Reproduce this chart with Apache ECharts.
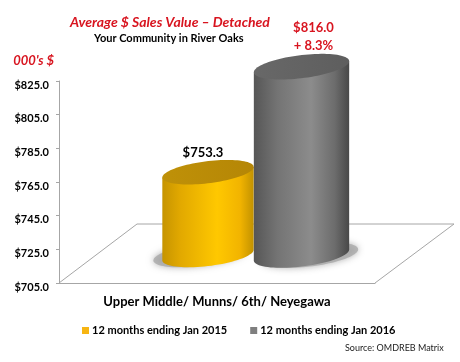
<!DOCTYPE html>
<html>
<head>
<meta charset="utf-8">
<style>html,body{margin:0;padding:0;background:#fff}#c{width:460px;height:362px}</style>
<script src="https://cdn.jsdelivr.net/npm/echarts@6/dist/echarts.min.js"></script>
</head>
<body>
<div id="c"></div>
<script>
var categories = ['Upper Middle/ Munns/ 6th/ Neyegawa'];
var seriesNames = ['12 months ending Jan 2015', '12 months ending Jan 2016'];
var values2015 = [753.3];
var values2016 = [816.0];
var changeLabel2016 = '+ 8.3%';
var yTicks = [705, 725, 745, 765, 785, 805, 825];

var FONT = 'Lato';
var chart = echarts.init(document.getElementById('c'));
var TILT = -7 * Math.PI / 180;

function ellipsePt(cx, cy, a, b, t) {
  return [
    cx + a * Math.cos(t) * Math.cos(TILT) - b * Math.sin(t) * Math.sin(TILT),
    cy + a * Math.cos(t) * Math.sin(TILT) + b * Math.sin(t) * Math.cos(TILT)
  ];
}
function ellipsePts(cx, cy, a, b) {
  var p = [];
  for (var i = 0; i < 90; i++) p.push(ellipsePt(cx, cy, a, b, i / 90 * 2 * Math.PI));
  return p;
}
function hGrad(stops) {
  return new echarts.graphic.LinearGradient(0, 0, 1, 0, stops.map(function (s) { return { offset: s[0], color: s[1] }; }));
}
function cylinder(o) {
  return function (params, api) {
    var v = api.value(1);
    var top = api.coord([0, v]);
    var base = api.coord([0, 705]);
    var band = api.size([1, 0])[0];
    var cx = top[0] + band * o.shift;
    var yT = top[1] - 29.5;
    var yB = base[1] - 28;
    var a = o.a, b = o.b;
    var t0 = Math.atan(-b * Math.tan(TILT) / a);
    var body = [];
    for (var i = 0; i <= 40; i++) body.push(ellipsePt(cx, yB, a, b, t0 + Math.PI * i / 40));
    body.push(ellipsePt(cx, yT, a, b, t0 + Math.PI));
    body.push(ellipsePt(cx, yT, a, b, t0));
    return {
      type: 'group',
      children: [
        { type: 'polygon', shape: { points: ellipsePts(cx + o.shadowDx, yB, a + 1, b) },
          style: { fill: 'rgba(165,165,165,0.75)', shadowBlur: 7, shadowColor: 'rgba(140,140,140,0.9)' } },
        { type: 'polygon', shape: { points: body }, style: { fill: hGrad(o.body) } },
        { type: 'polygon', shape: { points: ellipsePts(cx, yT, a, b) }, style: { fill: hGrad(o.cap) } },
        { type: 'text', x: cx + o.labelDx, y: yT + o.labelDy,
          style: { text: o.label(v), fill: o.labelColor, font: 'bold ' + o.labelSize + 'px ' + FONT,
                   align: 'center', verticalAlign: 'bottom', lineHeight: 18 } }
      ]
    };
  };
}

chart.setOption({
  animation: false,
  backgroundColor: '#fff',
  textStyle: { fontFamily: FONT },
  title: [
    { text: 'Average $ Sales Value \u2013 Detached', left: 70, top: 15, padding: 0,
      textStyle: { color: '#d8141f', fontStyle: 'italic', fontWeight: 'bold', fontSize: 14, fontFamily: FONT } },
    { text: 'Your Community in River Oaks', left: 94, top: 33, padding: 0,
      textStyle: { color: '#000', fontWeight: 'bold', fontSize: 11, fontFamily: FONT } },
    { text: 'Source: OMDREB Matrix', left: 345, top: 344, padding: 0,
      textStyle: { color: '#222', fontWeight: 'normal', fontSize: 9, fontFamily: FONT } }
  ],
  grid: { left: 59, top: 81, width: 316, height: 202, containLabel: false },
  legend: {
    left: 82, top: 325, itemWidth: 7, itemHeight: 7, itemGap: 23, padding: 0,
    icon: 'rect', selectedMode: false,
    textStyle: { color: '#000', fontWeight: 'bold', fontSize: 11, fontFamily: FONT, padding: [0, 0, 0, -2] },
    data: seriesNames
  },
  xAxis: {
    type: 'category', data: categories,
    axisLine: { lineStyle: { color: '#a6a6a6' } },
    axisTick: { length: 3, lineStyle: { color: '#a6a6a6' } },
    axisLabel: { color: '#000', fontWeight: 'bold', fontSize: 13, margin: 12, fontFamily: FONT }
  },
  yAxis: {
    type: 'value', min: 705, max: 825,
    name: "000's $", nameLocation: 'end', nameGap: 14,
    nameTextStyle: { color: '#d8141f', fontStyle: 'italic', fontWeight: 'bold', fontSize: 13, fontFamily: FONT, align: 'right', padding: [0, 5, 0, 0] },
    splitLine: { show: false },
    axisLine: { show: true, lineStyle: { color: '#a6a6a6' } },
    axisTick: { show: true, length: 3, lineStyle: { color: '#a6a6a6' }, customValues: yTicks },
    axisLabel: { color: '#000', fontWeight: 'bold', fontSize: 11, margin: 10, fontFamily: FONT,
      customValues: yTicks, lineHeight: 17, verticalAlign: 'middle', padding: [4, 0, 0, 0],
      formatter: function (v) { return '{t|$' + v.toFixed(1) + '}'; },
      rich: { t: { fontWeight: 'bold', fontSize: 11, fontFamily: FONT, color: '#000', padding: [4, 0, 0, 0] } } }
  },
  graphic: [{
    type: 'polyline', z: 0, silent: true,
    shape: { points: [[59, 283], [137, 224], [454, 224], [375, 283]] },
    style: { stroke: '#a6a6a6', lineWidth: 1, fill: 'none' }
  }],
  series: [
    { name: seriesNames[0], type: 'custom', z: 2, itemStyle: { color: '#f7b512' },
      encode: { x: 0, y: 1 },
      data: categories.map(function (c, i) { return [i, values2015[i]]; }),
      renderItem: cylinder({
        shift: -0.0285, a: 46, b: 11, shadowDx: -8,
        body: [[0, '#c69400'], [0.2, '#e2a900'], [0.6, '#ffc800'], [0.85, '#f2b400'], [1, '#c29200']],
        cap: [[0, '#bf9108'], [1, '#b58606']],
        label: function (v) { return '$' + v.toFixed(1); },
        labelColor: '#000', labelSize: 13, labelDx: -5, labelDy: -10
      })
    },
    { name: seriesNames[1], type: 'custom', z: 3, itemStyle: { color: '#7f7f7f' },
      encode: { x: 0, y: 1 },
      data: categories.map(function (c, i) { return [i, values2016[i]]; }),
      renderItem: cylinder({
        shift: 0.2674, a: 48, b: 11.5, shadowDx: 8,
        body: [[0, '#565656'], [0.25, '#747474'], [0.6, '#8c8c8c'], [0.85, '#6c6c6c'], [1, '#484848']],
        cap: [[0, '#686868'], [1, '#5e5e5e']],
        label: function (v) { return '$' + v.toFixed(1) + '\n' + changeLabel2016; },
        labelColor: '#d8141f', labelSize: 13, labelDx: 12, labelDy: -12
      })
    }
  ]
});
</script>
</body>
</html>
